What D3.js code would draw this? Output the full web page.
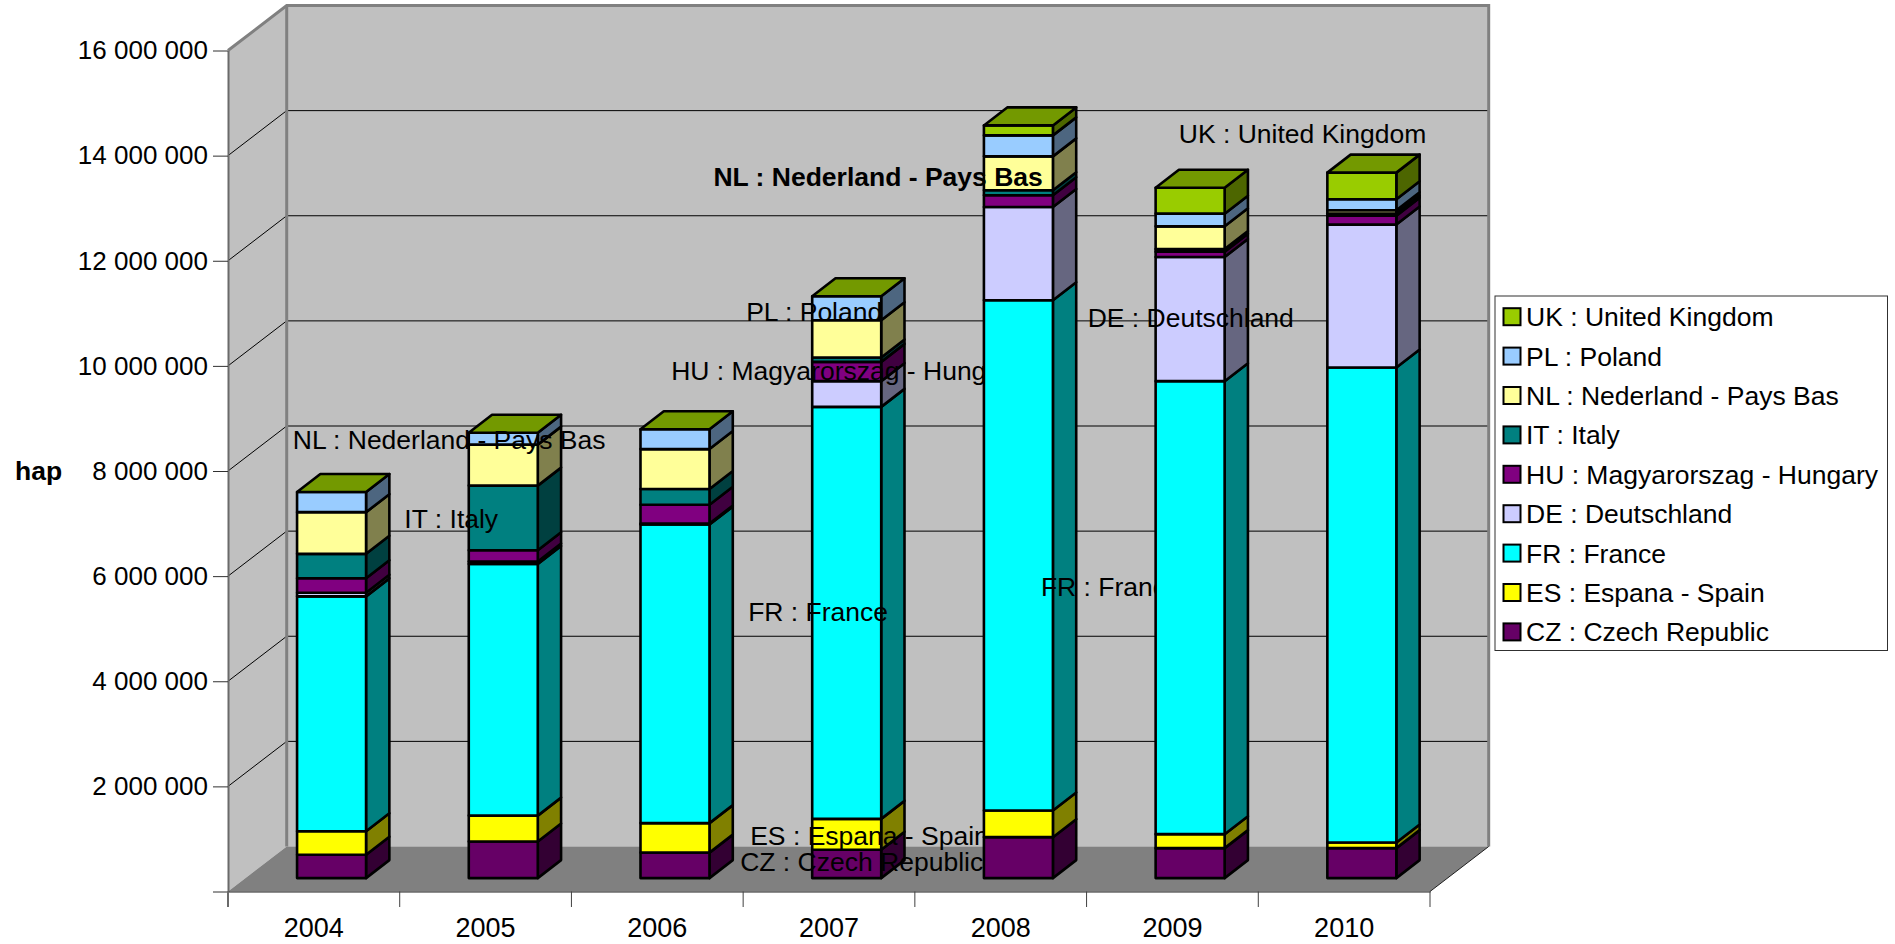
<!DOCTYPE html>
<html>
<head>
<meta charset="utf-8">
<script src="https://cdn.jsdelivr.net/npm/d3@7"></script>
<style>
  body { margin: 0; background: #fff; }
  text { font-family: "Liberation Sans", Arial, sans-serif; font-size: 26.5px; fill: #000; }
  .axis text { font-size: 26px; }
  .axis.years text { font-size: 27px; }
</style>
</head>
<body>
<script>
//==============================================================================
// DATA
//==============================================================================

const years = ['2004', '2005', '2006', '2007', '2008', '2009', '2010'];

// stacked bottom to top
const seriesCodes = ['CZ', 'ES', 'FR', 'DE', 'HU', 'IT', 'NL', 'PL', 'UK'];
const seriesNames = [
  'CZ : Czech Republic', 'ES : Espana - Spain', 'FR : France', 'DE : Deutschland',
  'HU : Magyarorszag - Hungary', 'IT : Italy', 'NL : Nederland - Pays Bas',
  'PL : Poland', 'UK : United Kingdom'
];

const cz = [445000, 697000, 485000, 538000, 779000, 570000, 570000];
const es = [445000, 492000, 561000, 589000, 506000, 266000, 106000];
const fr = [4470000, 4787000, 5680000, 7838000, 9709000, 8618000, 9038000];
const de = [70000, 48000, 20000, 489000, 1774000, 2363000, 2719000];
const hu = [274000, 212000, 356000, 367000, 222000, 101000, 171000];
const it = [465000, 1231000, 301000, 84000, 95000, 51000, 38000];
const nl = [793000, 780000, 759000, 709000, 646000, 431000, 63000];
const pl = [383000, 226000, 376000, 456000, 399000, 241000, 209000];
const uk = [0, 0, 0, 0, 190000, 494000, 508000];

const yTicks = [0, 2000000, 4000000, 6000000, 8000000, 10000000, 12000000, 14000000, 16000000];

// data labels that are switched on in the chart
const labelYears = ['2005', '2005', '2007', '2007', '2007', '2007', '2007', '2008', '2008', '2009', '2010'];
const labelCodes = ['NL', 'IT', 'PL', 'HU', 'FR', 'ES', 'CZ', 'NL', 'FR', 'DE', 'UK'];

//==============================================================================
// PARAMETERS
//==============================================================================

const width = 1895;
const height = 944;

const plot = { left: 228, right: 1430, top: 50.5, bottom: 891.5 };
const wall = { dx: 58.7, dy: 45 };     // depth of the box
const bar = { width: 69, dx: 23.3, dy: 18 };
const front = { dx: 17.7, dy: 13.4 };  // bar front face sits this far into the box

const colors = {
  CZ: '#660066', ES: '#ffff00', FR: '#00ffff', DE: '#ccccff', HU: '#800080',
  IT: '#008080', NL: '#ffff99', PL: '#99ccff', UK: '#99cc00'
};
const topColor = '#739900';

// label nudges: from bar front-left corner and middle of the segment
const labelDx = [-176, -64.4, -66, -141, -64, -62, -72, -270.5, 57, -68, -148.5];
const labelDy = [-16, 10.4, 13, 8, 8, 10.5, 7.5, 13, 41, 8, -42.5];

// scales
const x = d3.scaleBand().domain(years).range([plot.left, plot.right]);
const y = d3.scaleLinear().domain([0, 16000000]).range([plot.bottom, plot.top]);

const valuesByCode = { CZ: cz, ES: es, FR: fr, DE: de, HU: hu, IT: it, NL: nl, PL: pl, UK: uk };
const rows = years.map((year, i) => {
  const row = { year };
  seriesCodes.forEach(c => { row[c] = valuesByCode[c][i]; });
  return row;
});
const stacked = d3.stack().keys(seriesCodes)(rows);

const spaced = d3.formatLocale({ decimal: '.', thousands: ' ', grouping: [3], currency: ['', ''] }).format(',');
const poly = pts => d3.line()(pts) + 'Z';
const shade = (c, k) => {
  const rgb = d3.rgb(c);
  return d3.rgb(rgb.r * k, rgb.g * k, rgb.b * k).formatHex();
};

const barLeft = year => x(year) + (x.bandwidth() - bar.width) / 2 + front.dx;
const frontY = v => y(v) - front.dy;

const svg = d3.select('body').append('svg')
  .attr('width', width)
  .attr('height', height)
  .style('display', 'block');

//==============================================================================
// DRAW
//==============================================================================

// side wall, back wall, floor
svg.append('path')
  .attr('d', poly([[plot.left, plot.top], [plot.left + wall.dx, plot.top - wall.dy],
    [plot.left + wall.dx, plot.bottom - wall.dy], [plot.left, plot.bottom]]))
  .attr('fill', '#c0c0c0');
svg.append('rect')
  .attr('x', plot.left + wall.dx)
  .attr('y', plot.top - wall.dy)
  .attr('width', plot.right - plot.left)
  .attr('height', plot.bottom - plot.top)
  .attr('fill', '#c0c0c0');
svg.append('path')
  .attr('d', poly([[plot.left, plot.bottom], [plot.left + wall.dx, plot.bottom - wall.dy],
    [plot.right + wall.dx, plot.bottom - wall.dy], [plot.right, plot.bottom]]))
  .attr('fill', '#808080');

// gridlines on both walls
const gridTicks = yTicks.slice(1, -1);
svg.append('g').selectAll('path')
  .data(gridTicks)
  .enter()
  .append('path')
  .attr('d', d => d3.line()([[plot.left, y(d)], [plot.left + wall.dx, y(d) - wall.dy], [plot.right + wall.dx, y(d) - wall.dy]]))
  .attr('fill', 'none')
  .attr('stroke', '#000')
  .attr('stroke-width', 1);

// wall edges
svg.append('path')
  .attr('d', d3.line()([[plot.left, plot.top], [plot.left + wall.dx, plot.top - wall.dy],
    [plot.right + wall.dx, plot.top - wall.dy], [plot.right + wall.dx, plot.bottom - wall.dy]]))
  .attr('fill', 'none')
  .attr('stroke', '#808080')
  .attr('stroke-width', 3);
svg.append('line')
  .attr('x1', plot.left + wall.dx).attr('x2', plot.left + wall.dx)
  .attr('y1', plot.top - wall.dy).attr('y2', plot.bottom - wall.dy)
  .attr('stroke', '#808080')
  .attr('stroke-width', 3);
svg.append('path')
  .attr('d', d3.line()([[plot.right, plot.bottom], [plot.right + wall.dx, plot.bottom - wall.dy]]))
  .attr('stroke', '#202020')
  .attr('stroke-width', 1);

// y axis
const yAxis = svg.append('g')
  .attr('class', 'axis')
  .attr('transform', `translate(${plot.left},0)`)
  .call(d3.axisLeft(y).tickValues(yTicks).tickSize(15).tickSizeOuter(0).tickPadding(5).tickFormat(d => d ? spaced(d) : ''));
yAxis.select('.domain').attr('stroke', '#6a6a6a').attr('stroke-width', 2);
yAxis.selectAll('.tick line').attr('stroke', '#303030');

// x axis: labels mid band, ticks on band edges
const xAxis = svg.append('g')
  .attr('class', 'axis years')
  .attr('transform', `translate(0,${plot.bottom})`)
  .call(d3.axisBottom(x).tickSize(0).tickPadding(26));
xAxis.select('.domain').attr('stroke', '#202020');
xAxis.selectAll('.edge')
  .data(years.concat('end'))
  .enter()
  .append('line')
  .attr('class', 'edge')
  .attr('x1', d => d === 'end' ? plot.right : x(d))
  .attr('x2', d => d === 'end' ? plot.right : x(d))
  .attr('y1', 0)
  .attr('y2', 15.5)
  .attr('stroke', (d, i) => i === 0 ? '#6a6a6a' : '#404040')
  .attr('stroke-width', (d, i) => i === 0 ? 2 : 1);

// axis title
svg.append('text')
  .attr('x', 15)
  .attr('y', 480)
  .style('font-weight', 'bold')
  .text('hap');

// one year at a time, so later bars cover the labels of earlier ones
years.forEach((year, i) => {
  const left = barLeft(year);
  const right = left + bar.width;
  const g = svg.append('g').attr('class', 'year');

  const segments = stacked
    .map(s => ({ key: s.key, y0: s[i][0], y1: s[i][1] }))
    .filter(s => s.y1 > s.y0);

  const seg = g.selectAll('.segment')
    .data(segments)
    .enter()
    .append('g')
    .attr('class', 'segment')
    .attr('stroke', '#000')
    .attr('stroke-width', 2.6)
    .attr('stroke-linejoin', 'round');

  // side face
  seg.append('path')
    .attr('d', d => poly([[right, frontY(d.y0)], [right + bar.dx, frontY(d.y0) - bar.dy],
      [right + bar.dx, frontY(d.y1) - bar.dy], [right, frontY(d.y1)]]))
    .attr('fill', d => shade(colors[d.key], 0.5));

  // front face
  seg.append('rect')
    .attr('x', left)
    .attr('width', bar.width)
    .attr('y', d => frontY(d.y1))
    .attr('height', d => frontY(d.y0) - frontY(d.y1))
    .attr('fill', d => colors[d.key]);

  // top face
  const total = d3.max(segments, d => d.y1);
  g.append('path')
    .attr('d', poly([[left, frontY(total)], [left + bar.dx, frontY(total) - bar.dy],
      [right + bar.dx, frontY(total) - bar.dy], [right, frontY(total)]]))
    .attr('fill', topColor)
    .attr('stroke', '#000')
    .attr('stroke-width', 2.6)
    .attr('stroke-linejoin', 'round');

  // data labels of this year
  labelYears.forEach((ly, k) => {
    if (ly !== year) return;
    const code = labelCodes[k];
    const s = segments.find(d => d.key === code);
    const isBold = year === '2008' && code === 'NL';
    g.append('text')
      .attr('x', left + labelDx[k])
      .attr('y', frontY((s.y0 + s.y1) / 2) + labelDy[k])
      .style('font-weight', isBold ? 'bold' : 'normal')
      .text(seriesNames[seriesCodes.indexOf(code)]);
  });
});

// legend, top series first
const legendX = 1495;
const legendY = 296;
const legendStep = 39.4;
const legend = svg.append('g');

legend.append('rect')
  .attr('x', legendX)
  .attr('y', legendY)
  .attr('width', 392.5)
  .attr('height', 354.5)
  .attr('fill', '#fff')
  .attr('stroke', '#303030')
  .attr('stroke-width', 1);

const legendItems = legend.selectAll('.item')
  .data(seriesCodes.slice().reverse())
  .enter()
  .append('g')
  .attr('class', 'item')
  .attr('transform', (d, i) => `translate(${legendX},${legendY + 20.7 + i * legendStep})`);

legendItems.append('rect')
  .attr('x', 8.5)
  .attr('y', -8.5)
  .attr('width', 17)
  .attr('height', 17)
  .attr('fill', d => colors[d])
  .attr('stroke', '#000')
  .attr('stroke-width', 2);

legendItems.append('text')
  .attr('x', 31)
  .attr('y', 9.5)
  .text(d => seriesNames[seriesCodes.indexOf(d)]);
</script>
</body>
</html>
